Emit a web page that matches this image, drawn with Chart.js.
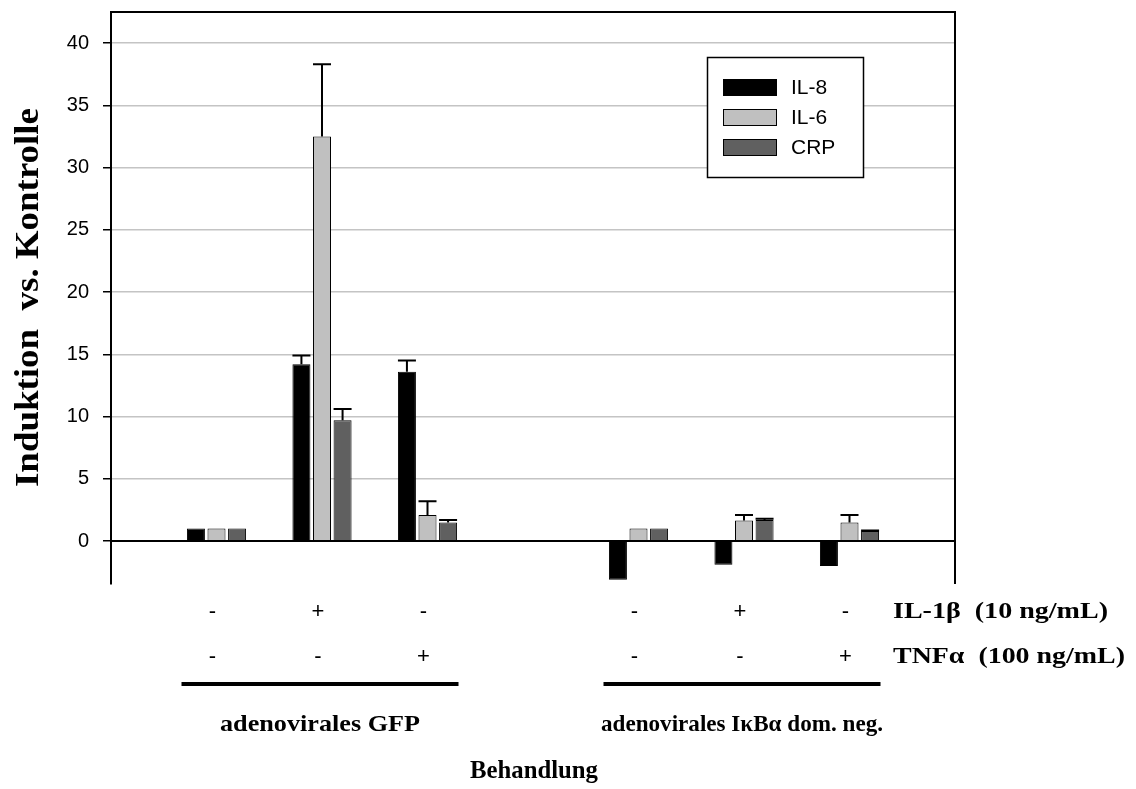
<!DOCTYPE html>
<html lang="de">
<head>
  <meta charset="UTF-8" />
  <title>Induktion vs. Kontrolle</title>
  <script src="https://cdn.jsdelivr.net/npm/chart.js"></script>
  <style>
    body {
      margin: 0;
      background-color: #ffffff;
    }

    .chart-wrapper {
      position: relative;
      width: 1136px;
      height: 789px;
    }
  </style>
</head>
<body>

<div class="chart-wrapper">
  <canvas id="inductionChart"></canvas>
</div>

<script>
  // Slots on the x axis; empty slots keep space at the ends and between the two virus groups
  const slots = ['', 'GFP', 'GFP + IL-1β', 'GFP + TNFα', '', 'IκBα', 'IκBα + IL-1β', 'IκBα + TNFα', ''];

  // Stimulation scheme under each bar group
  const il1bRow = ['', '-', '+', '-', '', '-', '+', '-', ''];
  const tnfRow  = ['', '-', '-', '+', '', '-', '-', '+', ''];

  // Fold induction vs. control and upper error (SD)
  const il8    = [null, 1.0, 14.2, 13.6, null, -3.1, -1.9, -2.0, null];
  const il8Err = [null, 0,   0.7,  0.9,  null, 0,    0,    0,    null];
  const il6    = [null, 1.0, 32.5, 2.1,  null, 1.0,  1.65, 1.5,  null];
  const il6Err = [null, 0,   5.8,  1.1,  null, 0,    0.45, 0.6,  null];
  const crp    = [null, 1.0, 9.7,  1.5,  null, 1.0,  1.7,  0.8,  null];
  const crpErr = [null, 0,   0.9,  0.2,  null, 0,    0.1,  0.05, null];

  const yTicks = [0, 5, 10, 15, 20, 25, 30, 35, 40];

  const sans = '"Liberation Sans", Arial, sans-serif';
  const serif = '"Liberation Serif", "Times New Roman", serif';

  // draws text stretched horizontally to a given width, anchored left or centred
  function fitText(ctx, text, x, y, width, align) {
    const natural = ctx.measureText(text).width;
    const sx = width / natural;
    ctx.save();
    ctx.textAlign = 'left';
    ctx.translate(align === 'center' ? x - width / 2 : x, y);
    ctx.scale(sx, 1);
    ctx.fillText(text, 0, 0);
    ctx.restore();
  }

  // Error whiskers (upward only) and the black zero line
  const errorBars = {
    id: 'errorBars',
    afterDatasetsDraw(chart) {
      const ctx = chart.ctx;
      const y = chart.scales.y;
      ctx.save();
      ctx.strokeStyle = '#000';
      ctx.lineWidth = 2;
      chart.data.datasets.forEach((ds, i) => {
        const meta = chart.getDatasetMeta(i);
        meta.data.forEach((bar, j) => {
          const v = ds.data[j];
          const e = ds.errors[j];
          if (v == null || !e) return;
          const top = y.getPixelForValue(v);
          const cap = y.getPixelForValue(v + e);
          ctx.beginPath();
          ctx.moveTo(bar.x, top);
          ctx.lineTo(bar.x, cap);
          ctx.moveTo(bar.x - bar.width / 2, cap);
          ctx.lineTo(bar.x + bar.width / 2, cap);
          ctx.stroke();
        });
      });

      const area = chart.chartArea;
      const zero = Math.round(y.getPixelForValue(0));
      ctx.beginPath();
      ctx.moveTo(area.left, zero);
      ctx.lineTo(area.right, zero);
      ctx.stroke();
      ctx.restore();
    }
  };

  // Frame, legend, treatment table and axis titles
  const annotations = {
    id: 'annotations',
    afterDraw(chart) {
      const ctx = chart.ctx;
      const area = chart.chartArea;
      const x = chart.scales.x;
      ctx.save();

      // top and right border
      ctx.strokeStyle = '#000';
      ctx.lineWidth = 2;
      ctx.beginPath();
      ctx.moveTo(area.left, area.top);
      ctx.lineTo(area.right, area.top);
      ctx.lineTo(area.right, area.bottom);
      ctx.stroke();

      // legend box
      ctx.fillStyle = '#fff';
      ctx.fillRect(707, 57, 156, 121);
      ctx.lineWidth = 1.5;
      ctx.strokeRect(707.5, 57.5, 156, 120);
      ctx.font = '21px ' + sans;
      ctx.textBaseline = 'middle';
      ctx.textAlign = 'left';
      chart.data.datasets.forEach((ds, i) => {
        const top = 79 + i * 30;
        ctx.fillStyle = ds.backgroundColor;
        ctx.fillRect(723, top, 54, 17);
        ctx.lineWidth = 1;
        ctx.strokeStyle = '#000';
        ctx.strokeRect(723.5, top + 0.5, 53, 16);
        ctx.fillStyle = '#000';
        ctx.fillText(ds.label, 791, top + 9);
      });

      // +/- rows
      ctx.font = '22px ' + sans;
      ctx.textAlign = 'center';
      slots.forEach((s, i) => {
        if (!il1bRow[i]) return;
        const px = x.getPixelForValue(i) - 4;
        ctx.fillText(il1bRow[i], px, 612);
        ctx.fillText(tnfRow[i], px, 657);
      });

      ctx.font = 'bold 24px ' + serif;
      fitText(ctx, 'IL-1β  (10 ng/mL)', 893, 612, 215, 'left');
      fitText(ctx, 'TNFα  (100 ng/mL)', 893, 657, 232, 'left');

      // group underlines and names
      const groups = [
        { from: 1, to: 3, name: 'adenovirales GFP', width: 200 },
        { from: 5, to: 7, name: 'adenovirales IκBα dom. neg.', width: 282 }
      ];
      ctx.fillStyle = '#000';
      groups.forEach(g => {
        const x0 = x.getPixelForValue(g.from) - 35;
        const x1 = x.getPixelForValue(g.to) + 31;
        ctx.fillRect(x0, 682, x1 - x0, 4);
        ctx.font = 'bold 24px ' + serif;
        fitText(ctx, g.name, (x0 + x1) / 2, 725, g.width, 'center');
      });

      ctx.font = 'bold 26px ' + serif;
      fitText(ctx, 'Behandlung', 534, 771, 128, 'center');

      // y axis title
      ctx.translate(29, 297.5);
      ctx.rotate(-Math.PI / 2);
      ctx.font = 'bold 33px ' + serif;
      fitText(ctx, 'Induktion  vs. Kontrolle', 0, 0, 379, 'center');
      ctx.restore();
    }
  };

  new Chart(document.getElementById('inductionChart').getContext('2d'), {
    type: 'bar',
    data: {
      labels: slots,
      datasets: [
        { label: 'IL-8', data: il8, errors: il8Err, backgroundColor: '#000000' },
        { label: 'IL-6', data: il6, errors: il6Err, backgroundColor: '#c0c0c0' },
        { label: 'CRP',  data: crp, errors: crpErr, backgroundColor: '#606060' }
      ].map(ds => Object.assign(ds, {
        borderColor: '#000',
        borderWidth: 1,
        categoryPercentage: 0.585,
        barPercentage: 0.875
      }))
    },
    options: {
      responsive: true,
      maintainAspectRatio: false,
      animation: false,
      layout: { padding: { left: 0, top: 12, right: 181, bottom: 205 } },
      plugins: {
        legend: { display: false },
        tooltip: { enabled: false }
      },
      scales: {
        x: {
          display: false,
          offset: false,
          grid: { display: false }
        },
        y: {
          min: -3.45,
          max: 42.5,
          afterBuildTicks(scale) {
            scale.ticks = yTicks.map(v => ({ value: v }));
          },
          afterFit(scale) {
            scale.width = 111;
            scale.paddingTop = 0;
            scale.paddingBottom = 0;
          },
          border: { color: '#000', width: 2 },
          grid: {
            color: ctx => ctx.tick && ctx.tick.value === 0 ? '#000' : '#c4c4c4',
            lineWidth: 1.5,
            tickColor: '#000',
            tickLength: 8,
            tickWidth: 1.5
          },
          ticks: {
            color: '#000',
            padding: 14,
            font: { family: sans, size: 20 }
          }
        }
      }
    },
    plugins: [errorBars, annotations]
  });
</script>

</body>
</html>
